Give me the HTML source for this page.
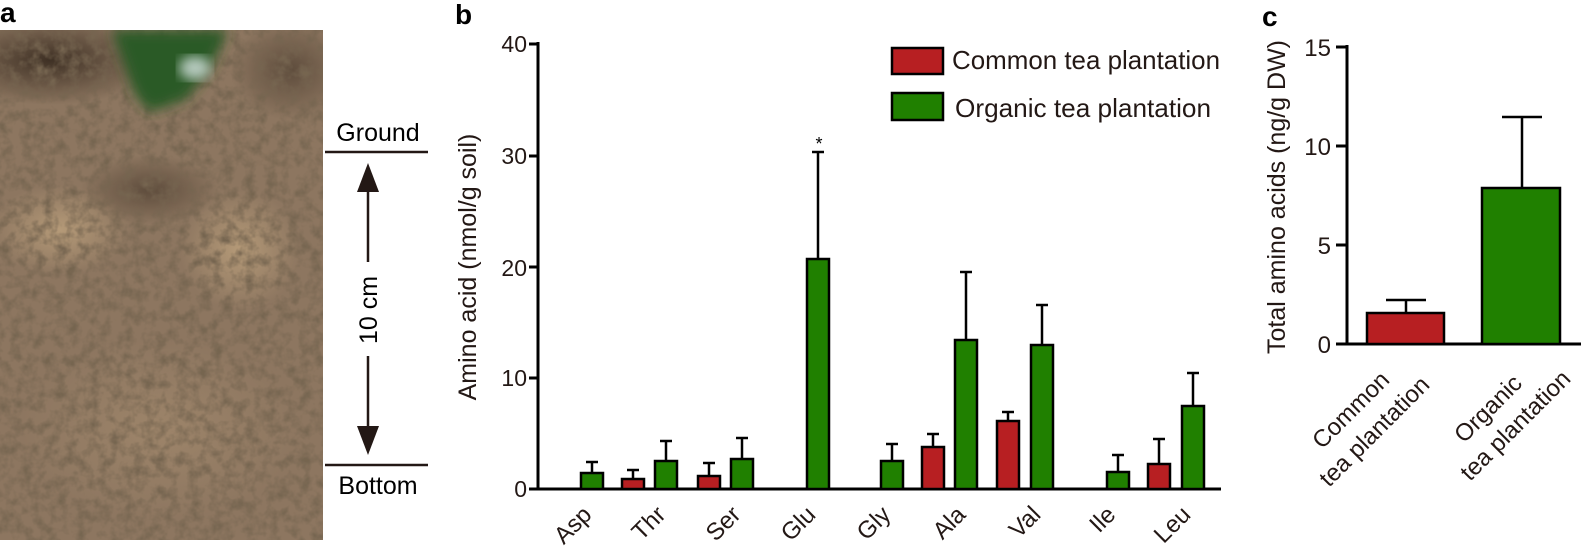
<!DOCTYPE html>
<html><head><meta charset="utf-8"><style>
html,body{margin:0;padding:0;background:#fff;}
svg{display:block;font-family:"Liberation Sans",Arial,sans-serif;}
</style></head><body>
<svg width="1581" height="546" viewBox="0 0 1581 546" xmlns="http://www.w3.org/2000/svg">
<defs>
<filter id="tex" x="0" y="0" width="100%" height="100%">
<feTurbulence type="fractalNoise" baseFrequency="0.09" numOctaves="3" seed="4" result="n"/>
<feColorMatrix in="n" type="matrix" values="0 0 0 0 0.18  0 0 0 0 0.13  0 0 0 0 0.08  0 0 0 -2.2 1.35" result="d"/>
<feComposite in="d" in2="SourceGraphic" operator="in"/>
</filter>
<filter id="blur"><feGaussianBlur stdDeviation="6"/></filter>
<radialGradient id="lt" cx="0.5" cy="0.5" r="0.5"><stop offset="0" stop-color="#b59a78"/><stop offset="1" stop-color="#b59a78" stop-opacity="0"/></radialGradient>
<radialGradient id="dk" cx="0.5" cy="0.5" r="0.5"><stop offset="0" stop-color="#3e3024"/><stop offset="1" stop-color="#3e3024" stop-opacity="0"/></radialGradient>
<clipPath id="pc"><rect x="0" y="30" width="323" height="510"/></clipPath>
</defs>

<!-- Panel a -->
<text x="0" y="22" font-size="28" font-weight="bold">a</text>
<g clip-path="url(#pc)">
<rect x="0" y="30" width="323" height="510" fill="#8d7660"/>
<ellipse cx="50" cy="60" rx="110" ry="45" fill="url(#dk)"/>
<ellipse cx="290" cy="70" rx="60" ry="50" fill="url(#dk)" opacity="0.6"/>
<ellipse cx="60" cy="230" rx="70" ry="45" fill="url(#lt)"/>
<ellipse cx="240" cy="250" rx="60" ry="60" fill="url(#lt)"/>
<ellipse cx="150" cy="190" rx="70" ry="35" fill="url(#dk)" opacity="0.6"/>
<ellipse cx="160" cy="430" rx="140" ry="90" fill="url(#lt)" opacity="0.4"/>
<rect x="0" y="30" width="323" height="510" fill="#8d7660" filter="url(#tex)"/>
<path d="M112,30 L228,30 L210,70 L185,100 L150,112 L135,95 Z" fill="#2b5a27" filter="url(#blur)"/>
<ellipse cx="195" cy="68" rx="16" ry="12" fill="#d9e6e4" opacity="0.8" filter="url(#blur)"/>
</g>

<line x1="325" y1="152" x2="428" y2="152" stroke="#231815" stroke-width="2.5"/>
<line x1="325" y1="465" x2="428" y2="465" stroke="#231815" stroke-width="2.5"/>
<text x="378" y="141" font-size="25" text-anchor="middle">Ground</text>
<text x="378" y="494" font-size="25" text-anchor="middle">Bottom</text>
<line x1="368" y1="180" x2="368" y2="262" stroke="#231815" stroke-width="2.5"/>
<line x1="368" y1="356" x2="368" y2="438" stroke="#231815" stroke-width="2.5"/>
<polygon points="368,163 357,192 379,192" fill="#231815"/>
<polygon points="368,455 357,426 379,426" fill="#231815"/>
<text transform="translate(377,310) rotate(-90)" font-size="25" text-anchor="middle">10 cm</text>

<!-- Panel b -->
<text x="455" y="24" font-size="28" font-weight="bold">b</text>
<text transform="translate(476,267) rotate(-90)" font-size="25" text-anchor="middle" fill="#231815">Amino acid (nmol/g soil)</text>
<g font-size="23" text-anchor="end" fill="#231815">
<text x="527" y="52">40</text><text x="527" y="164">30</text><text x="527" y="276">20</text><text x="527" y="386">10</text><text x="527" y="497">0</text>
</g>
<g stroke="#000" stroke-width="3">
<line x1="538" y1="42" x2="538" y2="489"/>
<line x1="529" y1="44" x2="538" y2="44"/><line x1="529" y1="156" x2="538" y2="156"/><line x1="529" y1="267" x2="538" y2="267"/><line x1="529" y1="378" x2="538" y2="378"/>
<line x1="529" y1="489" x2="1221" y2="489"/>
</g>
<g stroke="#000" stroke-width="2.5">
<line x1="592" y1="462" x2="592" y2="473"/><line x1="586" y1="462" x2="598" y2="462"/>
<line x1="633" y1="470" x2="633" y2="479"/><line x1="627" y1="470" x2="639" y2="470"/>
<line x1="666" y1="441" x2="666" y2="461"/><line x1="660" y1="441" x2="672" y2="441"/>
<line x1="709" y1="463" x2="709" y2="476"/><line x1="703" y1="463" x2="715" y2="463"/>
<line x1="742" y1="438" x2="742" y2="459"/><line x1="736" y1="438" x2="748" y2="438"/>
<line x1="818" y1="152" x2="818" y2="259"/><line x1="812" y1="152" x2="824" y2="152"/>
<line x1="892" y1="444" x2="892" y2="461"/><line x1="886" y1="444" x2="898" y2="444"/>
<line x1="933" y1="434" x2="933" y2="447"/><line x1="927" y1="434" x2="939" y2="434"/>
<line x1="966" y1="272" x2="966" y2="340"/><line x1="960" y1="272" x2="972" y2="272"/>
<line x1="1008" y1="412" x2="1008" y2="421"/><line x1="1002" y1="412" x2="1014" y2="412"/>
<line x1="1042" y1="305" x2="1042" y2="345"/><line x1="1036" y1="305" x2="1048" y2="305"/>
<line x1="1118" y1="455" x2="1118" y2="472"/><line x1="1112" y1="455" x2="1124" y2="455"/>
<line x1="1159" y1="439" x2="1159" y2="464"/><line x1="1153" y1="439" x2="1165" y2="439"/>
<line x1="1193" y1="373" x2="1193" y2="406"/><line x1="1187" y1="373" x2="1199" y2="373"/>
</g>
<g stroke="#000" stroke-width="2.5">
<rect x="581" y="473" width="22" height="16" fill="#208000"/>
<rect x="622" y="479" width="22" height="10" fill="#b71f22"/>
<rect x="655" y="461" width="22" height="28" fill="#208000"/>
<rect x="698" y="476" width="22" height="13" fill="#b71f22"/>
<rect x="731" y="459" width="22" height="30" fill="#208000"/>
<rect x="807" y="259" width="22" height="230" fill="#208000"/>
<rect x="881" y="461" width="22" height="28" fill="#208000"/>
<rect x="922" y="447" width="22" height="42" fill="#b71f22"/>
<rect x="955" y="340" width="22" height="149" fill="#208000"/>
<rect x="997" y="421" width="22" height="68" fill="#b71f22"/>
<rect x="1031" y="345" width="22" height="144" fill="#208000"/>
<rect x="1107" y="472" width="22" height="17" fill="#208000"/>
<rect x="1148" y="464" width="22" height="25" fill="#b71f22"/>
<rect x="1182" y="406" width="22" height="83" fill="#208000"/>
</g>
<text x="819" y="150" font-size="18" text-anchor="middle">*</text>
<g font-size="24" text-anchor="end" fill="#231815">
<text transform="translate(593,516) rotate(-45)">Asp</text>
<text transform="translate(667,516) rotate(-45)">Thr</text>
<text transform="translate(742,516) rotate(-45)">Ser</text>
<text transform="translate(817,516) rotate(-45)">Glu</text>
<text transform="translate(892,516) rotate(-45)">Gly</text>
<text transform="translate(967,516) rotate(-45)">Ala</text>
<text transform="translate(1042,516) rotate(-45)">Val</text>
<text transform="translate(1117,516) rotate(-45)">Ile</text>
<text transform="translate(1192,516) rotate(-45)">Leu</text>
</g>
<rect x="892" y="48" width="51" height="26" fill="#b71f22" stroke="#000" stroke-width="2.5"/>
<rect x="892" y="93" width="51" height="27" fill="#208000" stroke="#000" stroke-width="2.5"/>
<text x="952" y="69" font-size="26" fill="#231815" textLength="268" lengthAdjust="spacingAndGlyphs">Common tea plantation</text>
<text x="955" y="117" font-size="26" fill="#231815" textLength="256" lengthAdjust="spacingAndGlyphs">Organic tea plantation</text>

<!-- Panel c -->
<text x="1262" y="26" font-size="28" font-weight="bold">c</text>
<text transform="translate(1285,197) rotate(-90)" font-size="25" text-anchor="middle" fill="#231815">Total amino acids (ng/g DW)</text>
<g font-size="24" text-anchor="end" fill="#231815">
<text x="1331" y="56">15</text><text x="1331" y="155">10</text><text x="1331" y="254">5</text><text x="1331" y="353">0</text>
</g>
<g stroke="#000" stroke-width="3">
<line x1="1347" y1="45" x2="1347" y2="345"/>
<line x1="1336" y1="47" x2="1347" y2="47"/><line x1="1336" y1="146" x2="1347" y2="146"/><line x1="1336" y1="245" x2="1347" y2="245"/>
<line x1="1336" y1="344" x2="1581" y2="344"/>
</g>
<g stroke="#000" stroke-width="2.5">
<line x1="1406" y1="300" x2="1406" y2="313"/><line x1="1386" y1="300" x2="1426" y2="300"/>
<line x1="1522" y1="117" x2="1522" y2="188"/><line x1="1502" y1="117" x2="1542" y2="117"/>
<rect x="1367" y="313" width="77" height="31" fill="#b71f22"/>
<rect x="1482" y="188" width="78" height="156" fill="#208000"/>
</g>
<g font-size="24" fill="#231815">
<text transform="translate(1322,450) rotate(-45)">Common</text>
<text transform="translate(1329,488) rotate(-45)">tea plantation</text>
<text transform="translate(1464,444) rotate(-45)">Organic</text>
<text transform="translate(1470,482) rotate(-45)">tea plantation</text>
</g>
</svg>
</body></html>
